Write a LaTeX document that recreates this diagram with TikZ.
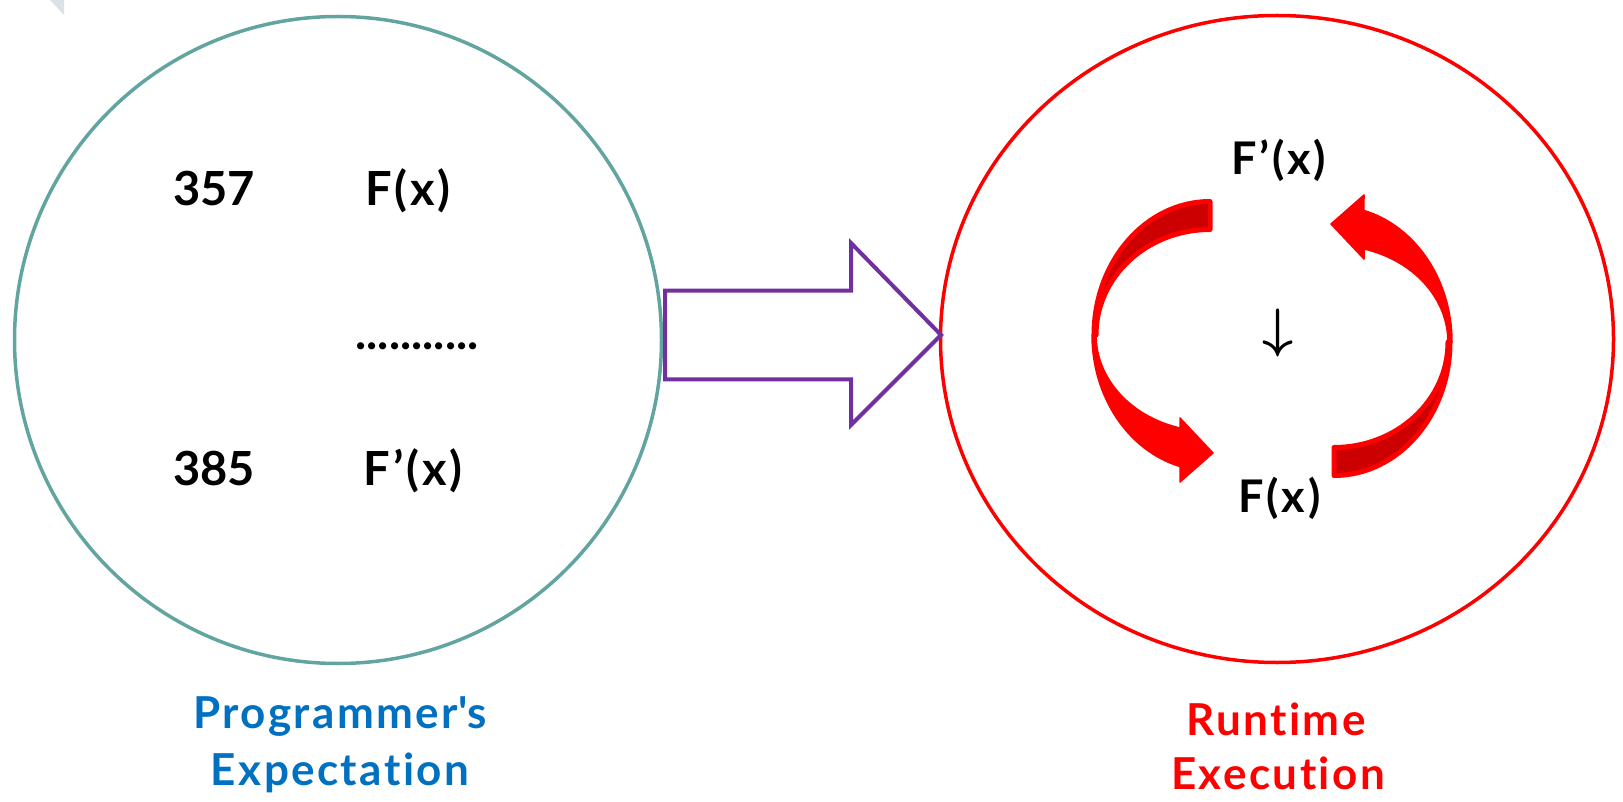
\documentclass[tikz,border=0pt]{standalone}
\usepackage{fontspec}
\usepackage{graphicx}
\setmainfont{Lato}[Ligatures=NoCommon]
\newfontfamily\spacedlato{Lato}[Ligatures=NoCommon, LetterSpace=6]
\newfontfamily\caplato{Lato}[Ligatures=NoCommon, LetterSpace=5.5]
\usetikzlibrary{shapes.geometric}

\definecolor{ringteal}{RGB}{98,164,159}
\definecolor{shiftpurple}{RGB}{112,48,160}
\definecolor{capblue}{RGB}{0,112,192}
\definecolor{darkface}{RGB}{204,0,0}
\definecolor{cornergrey}{RGB}{220,225,230}

% One half-turn arrow: a twisted band whose upper half shows its back face
\newcommand\loopturn{%
  % front face, lower half, ending in the arrow head
  \fill[red, draw=red, line width=1.5pt, line join=round]
    (1092,335) arc[start angle=180, end angle=104.7, x radius=118, y radius=136]
    -- (1180,482) -- (1213,453) -- (1180,418) -- (1180,428)
    arc[start angle=105.3, end angle=180, x radius=114, y radius=96.4] -- cycle;
  % back face, upper half, ending in the tail
  \draw[backface]
    (1210,201.5) arc[start angle=270, end angle=180, x radius=116, y radius=133.5]
    -- (1096,335) arc[start angle=180, end angle=270, x radius=114, y radius=105.5] -- cycle;
}

\begin{document}
\begin{tikzpicture}[x=1pt, y=-1pt,
  ring/.style={draw, inner sep=0pt, outer sep=0pt, line width=3.5pt},
  bigtext/.style={font=\fontsize{47}{56}\selectfont\bfseries, inner sep=0pt, anchor=base},
  formula/.style={font=\spacedlato\fontsize{47}{56}\selectfont\bfseries, inner sep=0pt, anchor=base},
  midformula/.style={font=\spacedlato\fontsize{45}{54}\selectfont\bfseries, inner sep=0pt, anchor=base},
  captext/.style={font=\caplato\fontsize{44}{53}\selectfont\bfseries, inner sep=0pt, anchor=base},
  backface/.style={fill=darkface, draw=red, line width=5pt, line join=round},
  shiftarrow/.style={draw=shiftpurple, line width=4pt, line join=miter},
]
\useasboundingbox (0,0) rectangle (1623,802);

% corner fragment
\fill[cornergrey] (50,0) -- (64,0) -- (64,15) -- cycle;

% the two circles
\node[ring, circle, draw=ringteal, minimum size=647pt] (expect) at (338,340) {};
\node[ring, ellipse, draw=red, minimum width=673pt, minimum height=647pt] (runtime) at (1277,339) {};

% block arrow from one circle to the other
\draw[shiftarrow] (665,290.7) -- (851,290.7) -- (851,243) -- (941,335)
  -- (851,425) -- (851,379.3) -- (665,379.3) -- cycle;

% left circle contents
\node[bigtext] (n357) at (214,206) {357};
\node[formula] (fx) at (408,206) {F(x)};
\node[bigtext] (dots) at (417,350) {...........};
\node[bigtext] (n385) at (214,485) {385};
\node[formula] (fpx) at (413,485) {F’(x)};

% right circle contents
\node[midformula] (rfpx) at (1279,175) {F’(x)};
\node[midformula] (rfx) at (1279.5,512) {F(x)};
\node[inner sep=0pt] (down) at (1278,333) {\resizebox*{!}{48pt}{\boldmath$\downarrow$}};

\loopturn
\begin{scope}[rotate around={180:(1272,338.5)}]
  \loopturn
\end{scope}

% captions
\node[captext, text=capblue] (pe1) at (340,728) {Programmer\textquotesingle s};
\node[captext, text=capblue] (pe2) at (340,785) {Expectation};
\node[captext, text=red] (re1) at (1276,735) {Runtime};
\node[captext, text=red] (re2) at (1278,789) {Execution};
\end{tikzpicture}
\end{document}
